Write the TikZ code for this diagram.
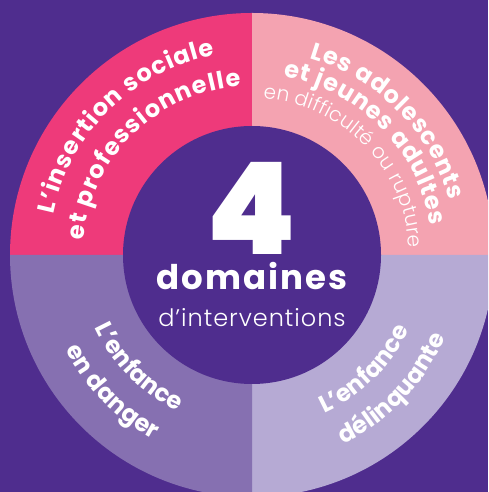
\documentclass[tikz,border=0pt]{standalone}
\usepackage{fontspec}
\setmainfont{Poppins}
\newfontfamily\lightfont{Poppins Light}
\newfontfamily\heavyfont{Poppins Black}
\usetikzlibrary{decorations.text}
\definecolor{bgpurple}{HTML}{4F2D8E}
\definecolor{rosehot}{HTML}{EE3A7A}
\definecolor{roselight}{HTML}{F4A3B1}
\definecolor{lavdark}{HTML}{8670B1}
\definecolor{lavlight}{HTML}{B6AAD4}
\newcommand{\bandfont}{\fontsize{24}{24}\selectfont\bfseries}
\newcommand{\thinfont}{\fontsize{20}{20}\selectfont\lightfont}
\tikzset{arc text/.style={decorate, decoration={text along path, text color=white, text align=fit to path, text={#1}}}}
\tikzset{midtext/.style={anchor=base, text=white, inner sep=0pt}}

\begin{document}
\begin{tikzpicture}[x=1pt,y=1pt]
  \useasboundingbox (0,0) rectangle (488,492);
  \clip (0,0) rectangle (488,492);
  \fill[bgpurple] (0,0) rectangle (488,492);
  \coordinate (O) at (252,237);
  % quadrants
  \fill[rosehot] (O) -- ++(180:242) arc[start angle=180, end angle=90, radius=242] -- cycle;
  \fill[roselight] (O) -- ++(90:242) arc[start angle=90, end angle=0, radius=242] -- cycle;
  \fill[lavlight] (O) -- ++(0:242) arc[start angle=0, end angle=-90, radius=242] -- cycle;
  \fill[lavdark] (O) -- ++(270:242) arc[start angle=270, end angle=180, radius=242] -- cycle;
  \fill[bgpurple] (O) circle[radius=129];
  % top labels, clockwise
  \path[arc text={|\bandfont|L’insertion sociale}] ([shift={(168.4:203)}]O) arc[start angle=168.4, end angle=100.5, radius=203];
  \path[arc text={|\bandfont|et professionnelle}] ([shift={(175.2:169)}]O) arc[start angle=175.2, end angle=93.7, radius=169];
  \path[arc text={|\bandfont|Les adolescents}] ([shift={(73.7:205)}]O) arc[start angle=73.7, end angle=15.5, radius=205];
  \path[arc text={|\bandfont|et jeunes adultes}] ([shift={(80.1:181)}]O) arc[start angle=80.1, end angle=9.5, radius=181];
  \path[arc text={|\thinfont|en difficulté ou rupture}] ([shift={(85.9:157)}]O) arc[start angle=85.9, end angle=2.7, radius=157];
  % bottom labels, counter clockwise
  \path[arc text={|\bandfont|L’enfance}] ([shift={(204.8:173)}]O) arc[start angle=204.8, end angle=243.1, radius=173];
  \path[arc text={|\bandfont|en danger}] ([shift={(206.9:209)}]O) arc[start angle=206.9, end angle=242, radius=209];
  \path[arc text={|\bandfont|L’enfance}] ([shift={(294.5:174)}]O) arc[start angle=294.5, end angle=334.6, radius=174];
  \path[arc text={|\bandfont|délinquante}] ([shift={(295.8:210)}]O) arc[start angle=295.8, end angle=335, radius=210];
  % centre
  \node[midtext, font=\heavyfont\fontsize{128}{128}\selectfont] (four) at (252,237) {4};
  \node[midtext, font=\bfseries\fontsize{34}{34}\selectfont\addfontfeature{LetterSpace=6}] (dom) at (252,202) {domaines};
  \node[midtext, font=\lightfont\fontsize{24}{24}\selectfont\addfontfeature{LetterSpace=4}] (interv) at (252,165) {d’interventions};
\end{tikzpicture}
\end{document}
